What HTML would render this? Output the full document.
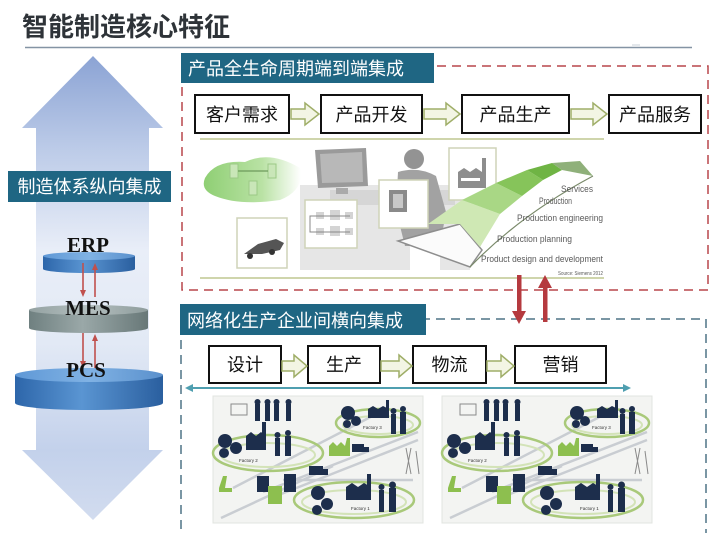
<!DOCTYPE html>
<html><head><meta charset="utf-8"><style>
html,body{margin:0;padding:0;background:#fff;}
svg{display:block;}
.cj{font-family:"Liberation Sans","Noto Sans CJK SC",sans-serif;}
.lb{font-family:"Liberation Sans",sans-serif;fill:#5a5a5a;}
</style></head><body>
<svg width="717" height="533" viewBox="0 0 717 533" xmlns="http://www.w3.org/2000/svg">
<defs>
  <linearGradient id="ag" gradientUnits="userSpaceOnUse" x1="0" y1="56" x2="0" y2="520">
    <stop offset="0" stop-color="#8ba3d4"/>
    <stop offset="0.2" stop-color="#bccbe8"/>
    <stop offset="0.42" stop-color="#e9eef8"/>
    <stop offset="0.62" stop-color="#e2e9f5"/>
    <stop offset="0.85" stop-color="#c3d1eb"/>
    <stop offset="1" stop-color="#d2dcef"/>
  </linearGradient>
  <linearGradient id="blueBody" x1="0" y1="0" x2="1" y2="0">
    <stop offset="0" stop-color="#2d66aa"/>
    <stop offset="0.45" stop-color="#5a95d2"/>
    <stop offset="1" stop-color="#2a5f9f"/>
  </linearGradient>
  <linearGradient id="blueTop" x1="0" y1="0" x2="1" y2="0">
    <stop offset="0" stop-color="#5f98d6"/>
    <stop offset="0.5" stop-color="#80b2e4"/>
    <stop offset="1" stop-color="#5a90cc"/>
  </linearGradient>
  <linearGradient id="grayBody" x1="0" y1="0" x2="1" y2="0">
    <stop offset="0" stop-color="#6f8080"/>
    <stop offset="0.45" stop-color="#9aa8a8"/>
    <stop offset="1" stop-color="#687878"/>
  </linearGradient>
  <linearGradient id="grayTop" x1="0" y1="0" x2="1" y2="0">
    <stop offset="0" stop-color="#94a2a2"/>
    <stop offset="0.5" stop-color="#b4bfbf"/>
    <stop offset="1" stop-color="#8e9c9c"/>
  </linearGradient>
  <linearGradient id="cloud" x1="0" y1="0" x2="1" y2="0">
    <stop offset="0" stop-color="#8fcf74"/>
    <stop offset="0.6" stop-color="#b9e2a4"/>
    <stop offset="1" stop-color="#ffffff"/>
  </linearGradient>
  <g id="net">
    <rect x="0" y="0" width="210" height="127" fill="#f3f4f2" stroke="#e2e4e0"/>
    <g stroke="#c9cdd2" stroke-width="2.5" fill="none">
      <path d="M20 92 L175 12"/>
      <path d="M50 96 L205 36"/>
      <path d="M58 102 L205 44"/>
      <path d="M70 84 L200 84"/>
      <path d="M8 122 L120 70"/>
    </g>
    <g fill="none" stroke="#a9c97a" stroke-width="2.5">
      <ellipse cx="165" cy="27" rx="42" ry="14"/>
      <ellipse cx="55" cy="57" rx="55" ry="18"/>
      <ellipse cx="141" cy="104" rx="60" ry="18"/>
    </g>
    <g fill="none" stroke="#d3e3b8" stroke-width="2">
      <ellipse cx="165" cy="29" rx="35" ry="9"/>
      <ellipse cx="55" cy="59" rx="47" ry="12"/>
      <ellipse cx="141" cy="106" rx="52" ry="12"/>
    </g>
    <g fill="#1d2e4c">
      <!-- management people -->
      <rect x="42" y="8" width="5" height="17"/><circle cx="44.5" cy="6" r="3"/>
      <rect x="52" y="8" width="5" height="17"/><circle cx="54.5" cy="6" r="3"/>
      <rect x="61" y="8" width="5" height="17"/><circle cx="63.5" cy="6" r="3"/>
      <rect x="73" y="8" width="5" height="17"/><circle cx="75.5" cy="6" r="3"/>
      <!-- factory 3 -->
      <circle cx="135" cy="17" r="7"/><circle cx="143" cy="25" r="5"/><circle cx="134" cy="28" r="4"/>
      <path d="M155 13 L160 10 L165 13 L170 10 L176 13 V22 H155 Z"/>
      <rect x="173" y="4" width="3" height="10"/>
      <rect x="178" y="18" width="5" height="20"/><circle cx="180.5" cy="15" r="3"/>
      <rect x="187" y="16" width="6" height="22"/><circle cx="190" cy="13" r="3"/>
      <!-- factory 2 -->
      <circle cx="12" cy="45" r="7"/><circle cx="23" cy="52" r="6"/><circle cx="11" cy="57" r="5"/>
      <path d="M33 40 L38 36 L43 40 L48 36 L53 40 V54 H33 Z"/>
      <rect x="49" y="26" width="4" height="14"/>
      <rect x="62" y="42" width="5" height="18"/><circle cx="64.5" cy="39" r="3"/>
      <rect x="72" y="40" width="6" height="20"/><circle cx="75" cy="37" r="3"/>
      <!-- trucks -->
      <rect x="139" y="48" width="12" height="8"/><rect x="151" y="51" width="5" height="5"/>
      <rect x="96" y="70" width="14" height="9"/><rect x="110" y="73" width="5" height="6"/>
      <!-- buildings -->
      <rect x="44" y="80" width="12" height="16"/><rect x="71" y="78" width="12" height="18"/>
      <!-- factory 1 -->
      <circle cx="105" cy="97" r="7"/><circle cx="114" cy="108" r="6"/><circle cx="104" cy="114" r="5"/>
      <path d="M133 91 L139 87 L145 91 L151 87 L158 91 V104 H133 Z"/>
      <rect x="154" y="78" width="4" height="13"/>
      <rect x="166" y="94" width="5" height="22"/><circle cx="168.5" cy="91" r="3"/>
      <rect x="176" y="92" width="7" height="24"/><circle cx="179.5" cy="89" r="3.5"/>
    </g>
    <g fill="#8dbf4f">
      <path d="M116 50 L120 46 L124 50 L128 46 L132 50 L134 42 H137 V60 H116 Z"/>
      <rect x="55" y="90" width="14" height="18"/>
      <path d="M6 92 l4 -12 l4 0 l-2 12 h7 v4 h-13z"/>
    </g>
    <g stroke="#8a8a8a" stroke-width="1" fill="none">
      <rect x="18" y="8" width="16" height="11"/>
      <path d="M193 52 l5 26 M198 52 l-5 26 M203 55 l3 23"/>
    </g>
    <g font-family="Liberation Sans,sans-serif" font-size="4.5" fill="#333">
      <text x="26" y="66">Factory 2</text>
      <text x="150" y="33">Factory 3</text>
      <text x="138" y="114">Factory 1</text>
    </g>
  </g>
</defs>

<!-- Title -->
<text x="22" y="36" class="cj" font-size="26" font-weight="bold" fill="#2e3338">智能制造核心特征</text>
<line x1="25" y1="47.5" x2="692" y2="47.5" stroke="#8494a4" stroke-width="1.5"/>
<line x1="632" y1="45" x2="640" y2="45" stroke="#c8d0d8" stroke-width="1"/>

<!-- Left double arrow -->
<polygon points="93,56 163,128 149,128 149,450 163,450 93,520 22,450 36,450 36,128 22,128" fill="url(#ag)"/>

<!-- Left label -->
<rect x="8" y="171" width="163" height="31" fill="#1f6683"/>
<text x="89.5" y="193" text-anchor="middle" class="cj" font-size="18" fill="#fff">制造体系纵向集成</text>

<!-- Cylinders -->
<rect x="43" y="256" width="92" height="13" fill="url(#blueBody)"/>
<ellipse cx="89" cy="269" rx="46" ry="4" fill="url(#blueBody)"/>
<ellipse cx="89" cy="256" rx="46" ry="4" fill="url(#blueTop)"/>

<rect x="29" y="310" width="119" height="18" fill="url(#grayBody)"/>
<ellipse cx="88.5" cy="328" rx="59.5" ry="5" fill="url(#grayBody)"/>
<ellipse cx="88.5" cy="310" rx="59.5" ry="5" fill="url(#grayTop)"/>

<rect x="15" y="375" width="148" height="28" fill="url(#blueBody)"/>
<ellipse cx="89" cy="403" rx="74" ry="7" fill="url(#blueBody)"/>
<ellipse cx="89" cy="375" rx="74" ry="7" fill="url(#blueTop)"/>

<!-- small red arrows -->
<g stroke="#c0504d" stroke-width="1.6" fill="#c0504d">
  <line x1="83" y1="263" x2="83" y2="291"/>
  <polygon points="80,290 86,290 83,297" stroke="none"/>
  <line x1="95" y1="269" x2="95" y2="297"/>
  <polygon points="92,270 98,270 95,263" stroke="none"/>
  <line x1="83" y1="333" x2="83" y2="362"/>
  <polygon points="80,361 86,361 83,368" stroke="none"/>
  <line x1="95" y1="340" x2="95" y2="368"/>
  <polygon points="92,341 98,341 95,334" stroke="none"/>
</g>

<g font-family="Liberation Serif,serif" font-weight="bold" font-size="21" fill="#111" text-anchor="middle">
  <text x="88" y="252">ERP</text>
  <text x="88" y="315">MES</text>
  <text x="86" y="377">PCS</text>
</g>

<!-- Top section: red dashed box -->
<rect x="182" y="66" width="526" height="224" fill="none" stroke="#b8474c" stroke-width="1.5" stroke-dasharray="9,6"/>
<rect x="181" y="53" width="253" height="30" fill="#1f6683"/>
<text x="188" y="75" class="cj" font-size="18" fill="#fff">产品全生命周期端到端集成</text>

<!-- top process boxes -->
<g fill="#fff" stroke="#111" stroke-width="2">
  <rect x="195" y="95" width="94" height="38"/>
  <rect x="321" y="95" width="101" height="38"/>
  <rect x="462" y="95" width="107" height="38"/>
  <rect x="609" y="95" width="92" height="38"/>
</g>
<g class="cj" font-size="18" fill="#111" text-anchor="middle">
  <text x="242" y="121">客户需求</text>
  <text x="371.5" y="121">产品开发</text>
  <text x="515.5" y="121">产品生产</text>
  <text x="655" y="121">产品服务</text>
</g>
<g fill="#f3f5e4" stroke="#9fae68" stroke-width="1.5">
  <path d="M291 109 H305 V103 L319 114 L305 125 V119 H291 Z"/>
  <path d="M424 109 H446 V103 L460 114 L446 125 V119 H424 Z"/>
  <path d="M571 109 H593 V103 L607 114 L593 125 V119 H571 Z"/>
</g>

<!-- top illustration -->
<line x1="200" y1="139" x2="604" y2="139" stroke="#cfd5ac" stroke-width="2"/>
<line x1="200" y1="278" x2="604" y2="278" stroke="#cfd5ac" stroke-width="2"/>
<!-- light gray desk silhouettes -->
<path d="M300 185 H470 V270 H440 V240 H410 V270 H300 Z" fill="#e6e6e6"/>
<path d="M330 190 H455 V205 H330 Z" fill="#d6d6d6"/>
<!-- person -->
<circle cx="414" cy="159" r="10" fill="#939393"/>
<path d="M398 172 Q418 166 436 176 L446 212 L440 246 L405 246 L396 210 Z" fill="#a2a2a2"/>
<!-- cloud -->
<path d="M205 178 Q215 160 245 162 Q270 150 300 168 Q305 190 280 200 Q240 206 215 196 Q200 190 205 178 Z" fill="url(#cloud)"/>
<g fill="#c9e6b8" stroke="#9cc986" stroke-width="1">
  <rect x="230" y="164" width="8" height="14"/><rect x="268" y="164" width="8" height="14"/><rect x="249" y="181" width="8" height="14"/>
</g>
<line x1="238" y1="171" x2="268" y2="171" stroke="#6e9a5c" stroke-width="1.2"/>
<!-- monitor -->
<path d="M315 150 L366 148 L368 186 L318 188 Z" fill="#9a9a9a"/>
<path d="M320 154 L362 152 L363 182 L322 183 Z" fill="#b8b8b8"/>
<rect x="336" y="188" width="12" height="6" fill="#aaa"/>
<!-- boxes -->
<g fill="#fff" stroke="#cfd3b8" stroke-width="1.5">
  <rect x="237" y="218" width="50" height="50"/>
  <rect x="305" y="200" width="52" height="48"/>
  <rect x="379" y="180" width="49" height="48"/>
  <rect x="449" y="148" width="47" height="52"/>
</g>
<!-- car -->
<path d="M244 254 L258 244 L276 239 L284 243 L280 250 L262 254 Z" fill="#555"/>
<circle cx="250" cy="256" r="3" fill="#333"/><circle cx="272" cy="252" r="3" fill="#333"/>
<!-- flowchart -->
<g fill="#d4d4d4">
  <rect x="316" y="212" width="8" height="7"/><rect x="330" y="210" width="10" height="10"/><rect x="345" y="212" width="8" height="7"/>
  <rect x="316" y="228" width="8" height="7"/><rect x="330" y="226" width="10" height="10"/><rect x="345" y="228" width="8" height="7"/>
</g>
<path d="M310 222 V216 H350 M310 222 V232 H350" stroke="#888" fill="none" stroke-width="1"/>
<!-- printer -->
<rect x="389" y="190" width="18" height="22" fill="#8a8a8a"/>
<rect x="393" y="194" width="10" height="14" fill="#c8c8c8"/>
<!-- factory -->
<path d="M458 172 L464 168 L470 172 L476 168 L482 172 V188 H458 Z" fill="#8d8d8d"/>
<rect x="482" y="158" width="4" height="30" fill="#8d8d8d"/>
<rect x="461" y="178" width="19" height="3" fill="#fff"/>
<!-- fan -->
<path d="M398 241 L460 224 L482 250 L470 267 Z" fill="#fbfbfb" stroke="#8e8e8e" stroke-width="1.5"/>
<path d="M428 224 L462 200 L500 214 L480 247 L460 224 Z" fill="#cfe8b4"/>
<path d="M462 200 L496 183 L522 196 L500 214 Z" fill="#a9d785"/>
<path d="M496 183 L527 170 L543 180 L522 196 Z" fill="#86c45a"/>
<path d="M527 170 L552 163 L562 170 L543 180 Z" fill="#6fb444"/>
<path d="M552 163 L580 161 L593 176 L562 170 Z" fill="#8fb07a"/>
<path d="M470 267 Q520 215 593 176" stroke="#7a8a6a" stroke-width="1.2" fill="none"/>
<g class="lb" font-size="9" text-anchor="end">
  <text x="593" y="192" textLength="32" lengthAdjust="spacingAndGlyphs">Services</text>
  <text x="572" y="204" textLength="33" lengthAdjust="spacingAndGlyphs">Production</text>
  <text x="603" y="221" textLength="86" lengthAdjust="spacingAndGlyphs">Production engineering</text>
  <text x="572" y="242" textLength="75" lengthAdjust="spacingAndGlyphs">Production planning</text>
  <text x="603" y="262" textLength="122" lengthAdjust="spacingAndGlyphs">Product design and development</text>
  <text x="603" y="275" font-size="5" textLength="45" lengthAdjust="spacingAndGlyphs">Source: Siemens 2012</text>
</g>

<!-- Bottom section: blue dashed box -->
<rect x="181" y="319" width="525" height="240" fill="none" stroke="#4e7486" stroke-width="1.5" stroke-dasharray="9,6"/>
<rect x="180" y="304" width="246" height="31" fill="#1f6683"/>
<text x="187" y="327" class="cj" font-size="18" fill="#fff">网络化生产企业间横向集成</text>

<!-- red vertical arrows -->
<g fill="#b53a3f">
  <rect x="517" y="275" width="4.5" height="38"/>
  <polygon points="512,311 526,311 519,324"/>
  <rect x="543" y="286" width="4.5" height="36"/>
  <polygon points="538,288 552,288 545,275"/>
</g>

<!-- bottom process boxes -->
<g fill="#fff" stroke="#111" stroke-width="2">
  <rect x="209" y="346" width="72" height="37"/>
  <rect x="308" y="346" width="72" height="37"/>
  <rect x="413" y="346" width="73" height="37"/>
  <rect x="515" y="346" width="91" height="37"/>
</g>
<g class="cj" font-size="18" fill="#111" text-anchor="middle">
  <text x="245" y="371">设计</text>
  <text x="344" y="371">生产</text>
  <text x="449.5" y="371">物流</text>
  <text x="560.5" y="371">营销</text>
</g>
<g fill="#f3f5e4" stroke="#9fae68" stroke-width="1.5">
  <path d="M282 361 H294 V355 L307 366 L294 377 V371 H282 Z"/>
  <path d="M381 361 H399 V355 L412 366 L399 377 V371 H381 Z"/>
  <path d="M487 361 H501 V355 L514 366 L501 377 V371 H487 Z"/>
</g>

<!-- teal double arrow -->
<line x1="190" y1="388" x2="626" y2="388" stroke="#4f9fb0" stroke-width="2"/>
<polygon points="185,388 193,384 193,392" fill="#4f9fb0"/>
<polygon points="631,388 623,384 623,392" fill="#4f9fb0"/>

<!-- network images -->
<use href="#net" transform="translate(213,396)"/>
<use href="#net" transform="translate(442,396)"/>
</svg>
</body></html>
